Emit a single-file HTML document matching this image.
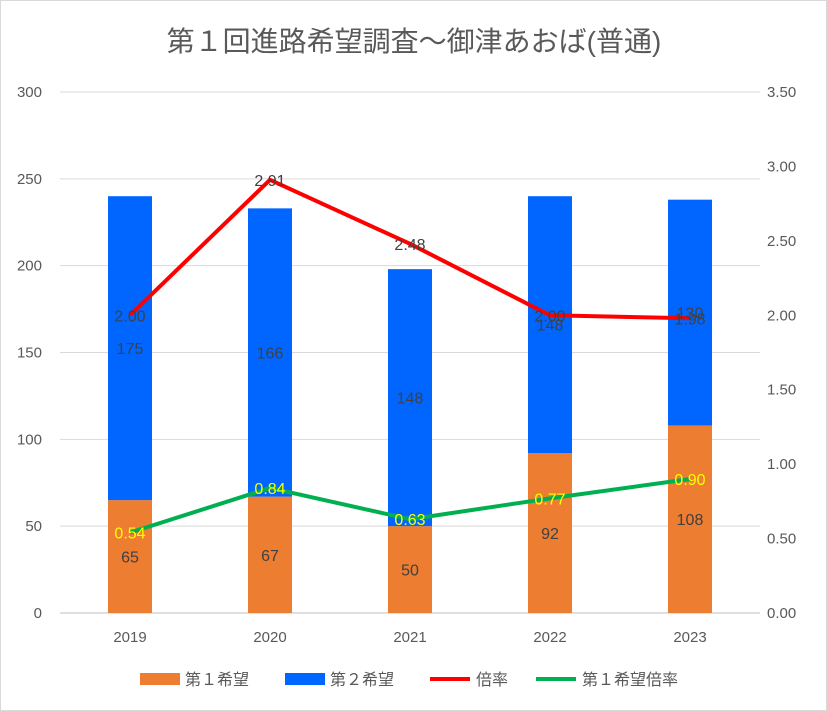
<!DOCTYPE html>
<html><head><meta charset="utf-8"><style>
html,body{margin:0;padding:0;background:#fff}
svg{display:block;font-family:"Liberation Sans","Noto Sans CJK JP",sans-serif}
</style></head><body>
<svg id="chart" width="827" height="711" viewBox="0 0 827 711" xmlns="http://www.w3.org/2000/svg">
<rect x="0.5" y="0.5" width="826" height="710" fill="#fff" stroke="#d9d9d9"/>
<text x="414" y="51" text-anchor="middle" font-size="28" fill="#595959">第１回進路希望調査～御津あおば(普通)</text>
<g id="grid"></g>
<g id="bars"></g>
<g id="lines"></g>
<g id="labels"></g>
<g id="axes"></g>
<g font-size="16" fill="#595959">
<rect x="140" y="673" width="40" height="12" fill="#ed7d31"/>
<text x="185" y="685">第１希望</text>
<rect x="285" y="673" width="40" height="12" fill="#0066ff"/>
<text x="330" y="685">第２希望</text>
<line x1="430" y1="679" x2="470" y2="679" stroke="#ff0000" stroke-width="4"/>
<text x="476" y="685">倍率</text>
<line x1="536" y1="679" x2="576" y2="679" stroke="#00b050" stroke-width="4"/>
<text x="582" y="685">第１希望倍率</text>
</g>
</svg>
<script>
const categories=["2019","2020","2021","2022","2023"];
const firstChoice=[65,67,50,92,108];
const secondChoice=[175,166,148,148,130];
const ratio=[2.00,2.91,2.48,2.00,1.98];
const firstRatio=[0.54,0.84,0.63,0.77,0.90];
const leftTicks=[0,50,100,150,200,250,300];
const rightTicks=["0.00","0.50","1.00","1.50","2.00","2.50","3.00","3.50"];

const NS="http://www.w3.org/2000/svg";
const X0=60,X1=760,Y0=613,Y1=92;
const yL=v=>Y0-(v/300)*(Y0-Y1);
const yR=v=>Y0-(v/3.5)*(Y0-Y1);
const step=(X1-X0)/categories.length;
const xC=i=>X0+step*(i+0.5);
const BW=44;
function mk(tag,attrs,parent,text){const e=document.createElementNS(NS,tag);for(const k in attrs)e.setAttribute(k,attrs[k]);if(text!==undefined)e.textContent=text;document.getElementById(parent).appendChild(e);return e;}

leftTicks.forEach(t=>{
  const g=mk('line',{x1:X0,x2:X1,y1:yL(t),y2:yL(t),stroke:t===0?'#bfbfbf':'#d9d9d9','stroke-width':1},'grid');
  
  
  const l=mk('text',{x:42,y:yL(t)+5,'text-anchor':'end','font-size':15,fill:'#595959'},'axes',String(t));
  
  
});
rightTicks.forEach(t=>{
  const l=mk('text',{x:767,y:yR(parseFloat(t))+5,'font-size':15,fill:'#595959'},'axes',t);
  
  
});
categories.forEach((c,i)=>{
  const l=mk('text',{x:xC(i),y:642,'text-anchor':'middle','font-size':15,fill:'#595959'},'axes',c);
  
  
  const b1=mk('rect',{x:xC(i)-BW/2,y:yL(firstChoice[i]),width:BW,height:Y0-yL(firstChoice[i]),fill:'#ed7d31'},'bars');
  
  
  const tot=firstChoice[i]+secondChoice[i];
  const b2=mk('rect',{x:xC(i)-BW/2,y:yL(tot),width:BW,height:yL(firstChoice[i])-yL(tot),fill:'#0066ff'},'bars');
  
  
  const t1=mk('text',{x:xC(i),y:(yL(firstChoice[i])+Y0)/2+6,'text-anchor':'middle','font-size':16,fill:'#404040'},'labels',String(firstChoice[i]));
  
  
  const t2=mk('text',{x:xC(i),y:(yL(firstChoice[i])+yL(tot))/2+6,'text-anchor':'middle','font-size':16,fill:'#404040'},'labels',String(secondChoice[i]));
  
  
});
function line(data,color,name,lblColor){
  const p=mk('polyline',{points:data.map((v,i)=>xC(i)+','+yR(v)).join(' '),fill:'none',stroke:color,'stroke-width':4,'stroke-linejoin':'round'},'lines');
  
  
  data.forEach((v,i)=>{
    const t=mk('text',{x:xC(i),y:yR(v)+6,'text-anchor':'middle','font-size':16,fill:lblColor},'labels',v.toFixed(2));
    
    
  });
}
line(ratio,'#ff0000','ratio-line','#404040');
line(firstRatio,'#00b050','first-ratio-line','#ffff00');
</script>
</body></html>
